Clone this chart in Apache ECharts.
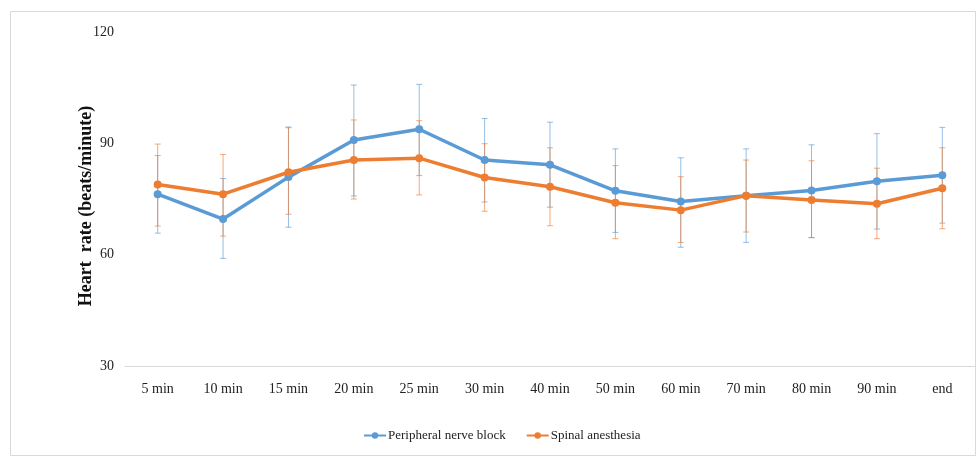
<!DOCTYPE html>
<html>
<head>
<meta charset="utf-8">
<script src="https://cdn.jsdelivr.net/npm/echarts@6/dist/echarts.min.js"></script>
<style>
  html, body { margin: 0; padding: 0; background: #fff; }
  #chart { width: 977px; height: 457px; }
</style>
</head>
<body>
<div id="chart"></div>
<script>
// Time points after anaesthesia
const categories = ['5 min', '10 min', '15 min', '20 min', '25 min', '30 min', '40 min',
  '50 min', '60 min', '70 min', '80 min', '90 min', 'end'];

// Mean heart rate (beats/minute)
const nerveBlockMean = [76.3, 69.6, 80.9, 90.9, 93.8, 85.5, 84.2, 77.2, 74.3, 75.9, 77.3, 79.8, 81.4];
const spinalMean     = [78.9, 76.3, 82.2, 85.5, 86.0, 80.8, 78.3, 74.0, 72.0, 75.9, 74.7, 73.7, 77.9];

// Error bar ends (upper / lower)
const nerveBlockHigh = [86.7, 80.5, 94.4, 105.7, 105.9, 96.7, 95.7, 88.5, 86.1, 88.5, 89.6, 92.6, 94.3];
const nerveBlockLow  = [65.8, 59.0, 67.4, 75.8, 81.3, 74.2, 72.8, 66.0, 62.0, 63.3, 64.6, 66.9, 68.5];
const spinalHigh     = [89.8, 87.0, 94.2, 96.3, 96.1, 89.9, 88.8, 84.0, 81.0, 85.5, 85.3, 83.3, 88.8];
const spinalLow      = [67.7, 65.0, 70.9, 75.0, 76.1, 71.7, 67.8, 64.3, 63.3, 66.1, 64.6, 64.3, 67.0];

const yTicks = [30, 60, 90, 120];

const BLUE = '#5B9BD5';
const ORANGE = '#ED7D31';
const SERIF = '"Liberation Serif", "Times New Roman", serif';

function errorData(low, high) {
  return categories.map((c, i) => [i, low[i], high[i]]);
}

function errorBarSeries(name, low, high, color) {
  return {
    type: 'custom',
    name: name + ' SD',
    data: errorData(low, high),
    z: 1,
    silent: true,
    renderItem: function (params, api) {
      const idx = api.value(0);
      const top = api.coord([idx, api.value(2)]);
      const bot = api.coord([idx, api.value(1)]);
      const half = 3;
      const style = { stroke: color, lineWidth: 1, opacity: 0.65 };
      return {
        type: 'group',
        children: [
          { type: 'line', shape: { x1: top[0], y1: top[1], x2: bot[0], y2: bot[1] }, style: style },
          { type: 'line', shape: { x1: top[0] - half, y1: top[1], x2: top[0] + half, y2: top[1] }, style: style },
          { type: 'line', shape: { x1: bot[0] - half, y1: bot[1], x2: bot[0] + half, y2: bot[1] }, style: style }
        ]
      };
    },
    encode: { x: 0, y: [1, 2] },
    tooltip: { show: false }
  };
}

const chart = echarts.init(document.getElementById('chart'), null, { renderer: 'canvas' });

chart.setOption({
  animation: false,
  backgroundColor: '#ffffff',
  graphic: [{
    type: 'rect',
    shape: { x: 10.5, y: 11.5, width: 965, height: 444 },
    style: { fill: 'none', stroke: '#d9d9d9', lineWidth: 1 },
    silent: true,
    z: -10
  }],
  grid: { left: 125, right: 2, top: 32, bottom: 91 },
  legend: {
    left: 358,
    top: 424,
    itemWidth: 22,
    itemHeight: 8,
    itemGap: 20,
    textStyle: { fontFamily: SERIF, fontSize: 13, color: '#222', padding: [0, 0, 0, -3] },
    data: ['Peripheral nerve block', 'Spinal anesthesia']
  },
  xAxis: {
    type: 'category',
    data: categories,
    boundaryGap: true,
    axisLine: { lineStyle: { color: '#d9d9d9', width: 1 } },
    axisTick: { show: false },
    axisLabel: { fontFamily: SERIF, fontSize: 14, color: '#222', margin: 16 }
  },
  yAxis: {
    type: 'value',
    min: yTicks[0],
    max: yTicks[yTicks.length - 1],
    interval: 30,
    name: 'Heart  rate (beats/minute)',
    nameLocation: 'middle',
    nameGap: 30,
    nameMoveOverlap: false,
    nameTextStyle: {
      fontFamily: SERIF, fontSize: 18, fontWeight: 'bold', color: '#111',
      padding: [0, 14, 0, 0]
    },
    axisLine: { show: false },
    axisTick: { show: false },
    splitLine: { show: false },
    axisLabel: { fontFamily: SERIF, fontSize: 14, color: '#222', margin: 11 }
  },
  series: [
    errorBarSeries('Peripheral nerve block', nerveBlockLow, nerveBlockHigh, BLUE),
    errorBarSeries('Spinal anesthesia', spinalLow, spinalHigh, ORANGE),
    {
      name: 'Peripheral nerve block',
      type: 'line',
      data: nerveBlockMean,
      z: 3,
      symbol: 'circle',
      symbolSize: 8,
      lineStyle: { color: BLUE, width: 3.5 },
      itemStyle: { color: BLUE }
    },
    {
      name: 'Spinal anesthesia',
      type: 'line',
      data: spinalMean,
      z: 4,
      symbol: 'circle',
      symbolSize: 8,
      lineStyle: { color: ORANGE, width: 3.5 },
      itemStyle: { color: ORANGE }
    }
  ]
});
</script>
</body>
</html>
